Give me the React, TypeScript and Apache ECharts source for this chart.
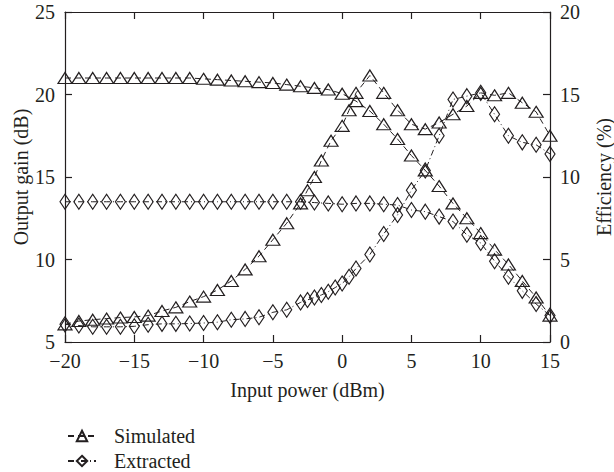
import React, { useEffect, useRef } from "react";
import * as echarts from "echarts";

// Simulated output gain (dB), left axis
const simGainX = [-20,-19,-18,-17,-16,-15,-14,-13,-12,-11,-10,-9,-8,-7,-6,-5,-4,-3,-2,-1,0,1,2,3,4,5,6,7,8,9,10,11,12,13,14,15];
const simGain = [21.0,21.0,21.0,21.0,21.0,21.0,21.0,21.0,21.0,21.0,20.95,20.9,20.85,20.8,20.75,20.7,20.6,20.5,20.4,20.3,20.05,19.6,19.0,18.2,17.3,16.3,15.4,14.45,13.4,12.5,11.6,10.6,9.7,8.7,7.7,6.6];

// Simulated efficiency (%), right axis
const simEffX = [-20,-19,-18,-17,-16,-15,-14,-13,-12,-11,-10,-9,-8,-7,-6,-5,-4,-3,-2.5,-2,-1.5,-0.8,0,0.5,1,2,3,4,5,6,7,8,9,10,11,12,13,14,15];
const simEff = [1.07,1.27,1.35,1.42,1.48,1.52,1.6,1.88,2.1,2.45,2.75,3.15,3.7,4.4,5.2,6.2,7.2,8.4,9.2,10.0,11.0,12.2,13.1,14.05,15.1,16.15,15.1,14.05,13.2,12.9,13.3,13.8,14.3,15.1,14.95,15.1,14.5,13.95,12.5];

// Extracted output gain (dB), left axis
const extGainX = [-20,-19,-18,-17,-16,-15,-14,-13,-12,-11,-10,-9,-8,-7,-6,-5,-4,-3,-2,-1,0,1,2,3,4,5,6,7,8,9,10,11,12,13,14,15];
const extGain = [13.5,13.5,13.5,13.5,13.5,13.5,13.5,13.5,13.5,13.5,13.5,13.5,13.5,13.5,13.5,13.5,13.5,13.5,13.45,13.4,13.35,13.4,13.4,13.35,13.3,13.0,12.9,12.6,12.3,11.5,11.0,9.9,8.95,8.1,7.3,6.6];

// Extracted efficiency (%), right axis
const extEffX = [-20,-19,-18,-17,-16,-15,-14,-13,-12,-11,-10,-9,-8,-7,-6,-5,-4,-3,-2.5,-2,-1.5,-1,-0.5,0,0.5,1,2,3,4,5,6,7,8,9,10,11,12,13,14,15];
const extEff = [1.07,1.0,0.92,0.92,0.92,0.95,1.05,1.1,1.1,1.12,1.15,1.2,1.35,1.4,1.5,1.8,1.95,2.4,2.55,2.7,2.85,3.05,3.3,3.55,3.95,4.45,5.3,6.55,7.7,9.2,10.4,12.5,14.7,14.9,15.1,13.8,12.5,12.1,11.95,11.4];

const xTicks = { min: -20, max: 15, interval: 5 };
const gainTicks = { min: 5, max: 25, interval: 5 };
const effTicks = { min: 0, max: 20, interval: 5 };

const zip = (xs: number[], ys: number[]) => xs.map((x, i) => [x, ys[i]]);

const FONT = "'Liberation Serif', 'Times New Roman', 'DejaVu Serif', serif";
const INK = "#231f20";
const FS = 20;

export default function App() {
  const ref = useRef<HTMLDivElement>(null);
  useEffect(() => {
    if (!ref.current) return;
    const chart = echarts.init(ref.current, undefined, { renderer: "svg" });
    const axisLine = { show: true, onZero: false, lineStyle: { color: INK, width: 1.2 } };
    const axisTick = { show: true, inside: true, length: 7, lineStyle: { color: INK, width: 1.2 } };
    const labelStyle = { fontFamily: FONT, fontSize: FS, color: INK };
    const nameStyle = { fontFamily: FONT, fontSize: FS, color: INK };
    const minus = (v: number) => String(v).replace("-", "\u2212");

    const simLine = { color: INK, width: 1, type: [6, 4] as any };
    const extLine = { color: INK, width: 1, type: [6, 3, 1, 3] as any };
    const markerStyle = { color: "rgba(255,255,255,0)", borderColor: INK, borderWidth: 1.2 };

    const legendBase = {
      orient: "horizontal",
      left: 62,
      itemWidth: 28,
      itemHeight: 13,
      textStyle: { fontFamily: FONT, fontSize: FS, color: INK, padding: [0, 0, 0, 13] },
    };

    chart.setOption({
      animation: false,
      backgroundColor: "#fff",
      grid: { left: 65, right: 64, top: 12, bottom: 130, outerBoundsMode: "none", containLabel: false },
      legend: [
        { ...legendBase, top: 421, data: ["Simulated"] },
        { ...legendBase, top: 446, data: ["Extracted"] },
      ],
      xAxis: [
        {
          type: "value",
          ...xTicks,
          position: "bottom",
          axisLine,
          axisTick,
          splitLine: { show: false },
          axisLabel: { ...labelStyle, margin: 9, formatter: minus },
          name: "Input power (dBm)",
          nameLocation: "middle",
          nameGap: 38,
          nameMoveOverlap: false,
          nameTextStyle: nameStyle,
        },
        {
          type: "value",
          ...xTicks,
          position: "top",
          axisLine,
          axisTick,
          splitLine: { show: false },
          axisLabel: { show: false },
        },
      ],
      yAxis: [
        {
          type: "value",
          ...gainTicks,
          position: "left",
          axisLine,
          axisTick,
          splitLine: { show: false },
          axisLabel: { ...labelStyle, margin: 10 },
          name: "Output gain (dB)",
          nameLocation: "middle",
          nameGap: 34,
          nameMoveOverlap: false,
          nameTextStyle: nameStyle,
        },
        {
          type: "value",
          ...effTicks,
          position: "right",
          axisLine,
          axisTick,
          splitLine: { show: false },
          axisLabel: { ...labelStyle, margin: 10 },
          name: "Efficiency (%)",
          nameLocation: "middle",
          nameGap: 44,
          nameMoveOverlap: false,
          nameTextStyle: nameStyle,
        },
      ],
      series: [
        {
          name: "Simulated",
          type: "line",
          xAxisIndex: 0,
          yAxisIndex: 0,
          data: zip(simGainX, simGain),
          symbol: "triangle",
          symbolSize: [14, 11],
          itemStyle: markerStyle,
          lineStyle: simLine,
        },
        {
          name: "Simulated",
          type: "line",
          xAxisIndex: 0,
          yAxisIndex: 1,
          data: zip(simEffX, simEff),
          symbol: "triangle",
          symbolSize: [14, 11],
          itemStyle: markerStyle,
          lineStyle: simLine,
        },
        {
          name: "Extracted",
          type: "line",
          xAxisIndex: 0,
          yAxisIndex: 0,
          data: zip(extGainX, extGain),
          symbol: "diamond",
          symbolSize: [10, 15],
          itemStyle: markerStyle,
          lineStyle: extLine,
        },
        {
          name: "Extracted",
          type: "line",
          xAxisIndex: 0,
          yAxisIndex: 1,
          data: zip(extEffX, extEff),
          symbol: "diamond",
          symbolSize: [10, 15],
          itemStyle: markerStyle,
          lineStyle: extLine,
        },
      ],
    });
    return () => chart.dispose();
  }, []);
  return (
    <div
      ref={ref}
      style={{ position: "fixed", left: 0, top: 0, width: 614, height: 472, background: "#fff" }}
    />
  );
}
